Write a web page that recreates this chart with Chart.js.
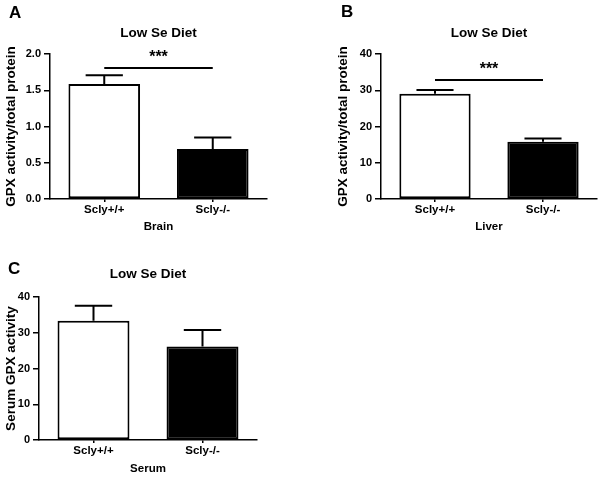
<!DOCTYPE html>
<html>
<head>
<meta charset="utf-8">
<script src="https://cdn.jsdelivr.net/npm/chart.js@4"></script>
<style>
  html, body { margin: 0; padding: 0; background: #fff; }
  #wrap { position: relative; width: 601px; height: 477px; background: #fff; overflow: hidden; }
  canvas { position: absolute; }
  .letter { position: absolute; font-family: "Liberation Sans", Arial, sans-serif; font-weight: bold; font-size: 17px; line-height: 17px; color: #000; }
</style>
</head>
<body>
<div id="wrap">
  <canvas id="cA" width="300" height="240" style="left:0;top:0;width:300px;height:240px"></canvas>
  <canvas id="cB" width="301" height="240" style="left:300px;top:0;width:301px;height:240px"></canvas>
  <canvas id="cC" width="300" height="237" style="left:0;top:240px;width:300px;height:237px"></canvas>
  <div class="letter" style="left:9px;top:4px">A</div>
  <div class="letter" style="left:341px;top:3px">B</div>
  <div class="letter" style="left:8px;top:260px">C</div>
</div>
<script>
// ---- data ----
const categories = ['Scly+/+', 'Scly-/-'];
const chartTitle = 'Low Se Diet';

const brainMean = [1.59, 0.69];
const brainErr  = [0.12, 0.16];
const brainTicks = [0, 0.5, 1.0, 1.5, 2.0];
const brainSigY = 1.81;

const liverMean = [29.1, 15.8];
const liverErr  = [1.0, 0.9];
const liverTicks = [0, 10, 20, 30, 40];
const liverSigY = 32.9;

const serumMean = [33.4, 26.2];
const serumErr  = [4.2, 4.6];
const serumTicks = [0, 10, 20, 30, 40];

const sigLabel = '***';
const barColors = ['#ffffff', '#000000'];

// ---- drawing ----
const FONT = '"Liberation Sans", Arial, sans-serif';

const errorBarPlugin = {
  id: 'errorBars',
  afterDatasetsDraw(chart, args, opts) {
    const ctx = chart.ctx;
    const y = chart.scales.y;
    const meta = chart.getDatasetMeta(0);
    ctx.save();
    ctx.strokeStyle = '#000';
    ctx.lineWidth = 2;
    meta.data.forEach((bar, i) => {
      const top = y.getPixelForValue(opts.mean[i] + opts.err[i]);
      const half = bar.width * 0.26;
      ctx.beginPath();
      ctx.moveTo(bar.x, bar.y);
      ctx.lineTo(bar.x, top);
      ctx.moveTo(bar.x - half, top);
      ctx.lineTo(bar.x + half, top);
      ctx.stroke();
    });
    if (opts.sigY != null) {
      const ly = y.getPixelForValue(opts.sigY);
      const x0 = meta.data[0].x, x1 = meta.data[1].x;
      ctx.beginPath();
      ctx.moveTo(x0, ly);
      ctx.lineTo(x1, ly);
      ctx.stroke();
      ctx.fillStyle = '#000';
      ctx.font = 'bold 16px ' + FONT;
      ctx.textAlign = 'center';
      ctx.textBaseline = 'alphabetic';
      ctx.fillText(opts.sigLabel, (x0 + x1) / 2, ly - 6);
    }
    ctx.restore();
  }
};

function makeChart(id, o) {
  return new Chart(document.getElementById(id), {
    type: 'bar',
    data: {
      labels: categories,
      datasets: [{
        data: o.mean,
        backgroundColor: barColors,
        borderColor: '#000',
        borderWidth: 2,
        borderSkipped: false,
        categoryPercentage: 1,
        barPercentage: 0.66
      }]
    },
    plugins: [errorBarPlugin],
    options: {
      responsive: false,
      animation: false,
      devicePixelRatio: 1,
      layout: { padding: o.padding },
      plugins: {
        legend: { display: false },
        tooltip: { enabled: false },
        title: {
          display: true,
          text: chartTitle,
          fullSize: false,
          color: '#000',
          font: { family: FONT, size: 13.5, weight: 'bold' },
          padding: o.titlePad
        },
        errorBars: { mean: o.mean, err: o.err, sigY: o.sigY, sigLabel: sigLabel }
      },
      scales: {
        x: {
          offset: true,
          grid: { display: true, drawOnChartArea: false, drawTicks: true, tickLength: 3, offset: false, color: '#000', lineWidth: 1.5 },
          border: { display: true, color: '#000', width: 1.5 },
          ticks: { color: '#000', padding: 1, font: { family: FONT, size: 11.5, weight: 'bold' } },
          title: { display: true, text: o.xTitle, color: '#000', padding: { top: 0, bottom: o.xTitlePadBottom }, font: { family: FONT, size: 11.5, weight: 'bold' } },
          afterFit(s) { s.height = o.xHeight; }
        },
        y: {
          min: o.ticks[0],
          max: o.ticks[o.ticks.length - 1],
          afterBuildTicks(s) { s.ticks = o.ticks.map(v => ({ value: v })); },
          grid: { display: true, drawOnChartArea: false, drawTicks: true, tickLength: 6, color: '#000', lineWidth: 1.5 },
          border: { display: true, color: '#000', width: 1.5 },
          ticks: { color: '#000', padding: 3, font: { family: FONT, size: 11, weight: 'bold' }, callback: o.fmt },
          title: { display: true, text: o.yTitle, color: '#000', padding: { top: 3, bottom: 0 }, font: { family: FONT, size: 13.5, weight: 'bold' } },
          afterFit(s) { s.width = o.yWidth; }
        }
      }
    }
  });
}

const fmt1 = (v) => Number(v).toFixed(1);
const fmt0 = (v) => String(v);

makeChart('cA', {
  mean: brainMean, err: brainErr, sigY: brainSigY, ticks: brainTicks, fmt: fmt1,
  xTitle: 'Brain', yTitle: 'GPX activity/total protein',
  padding: { left: 0, right: 33, top: 0, bottom: 0 },
  titlePad: { top: 25, bottom: 13 },
  yWidth: 50, xHeight: 41, xTitlePadBottom: 6
});
makeChart('cB', {
  mean: liverMean, err: liverErr, sigY: liverSigY, ticks: liverTicks, fmt: fmt0,
  xTitle: 'Liver', yTitle: 'GPX activity/total protein',
  padding: { left: 32, right: 4, top: 0, bottom: 0 },
  titlePad: { top: 25, bottom: 13 },
  yWidth: 49, xHeight: 41, xTitlePadBottom: 6
});
makeChart('cC', {
  mean: serumMean, err: serumErr, sigY: null, ticks: serumTicks, fmt: fmt0,
  xTitle: 'Serum', yTitle: 'Serum GPX activity',
  padding: { left: 0, right: 43, top: 0, bottom: 0 },
  titlePad: { top: 26, bottom: 15 },
  yWidth: 39, xHeight: 37, xTitlePadBottom: 1
});
</script>
</body>
</html>
